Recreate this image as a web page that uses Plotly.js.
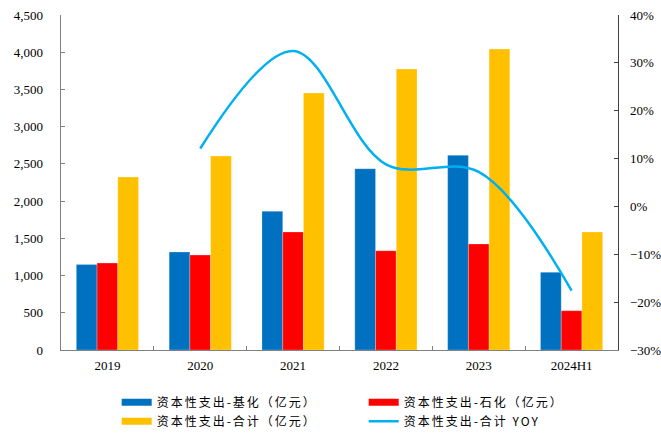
<!DOCTYPE html>
<html><head><meta charset="utf-8">
<script src="https://cdn.plot.ly/plotly-3.0.1.min.js"></script>
<style>body{margin:0;background:#fff}#c{width:661px;height:434px}
.legendtext{letter-spacing:2px}</style>
</head><body><div id="c"></div>
<script>
const categories = ['2019','2020','2021','2022','2023','2024H1'];
const capexJihua = [1150, 1316, 1863, 2435, 2615, 1044];
const capexShihua = [1168, 1276, 1585, 1334, 1424, 528];
const capexTotal = [2324, 2606, 3452, 3775, 4043, 1585];
const yoyCategories = ['2020','2021','2022','2023','2024H1'];
const yoyTotal = [0.121, 0.325, 0.088, 0.072, -0.176];
const names = ['资本性支出-基化（亿元）','资本性支出-石化（亿元）','资本性支出-合计（亿元）','资本性支出-合计 YOY'];
const colors = ['#0070C0','#FF0000','#FFC000','#00B0F0'];

const serif = 'Liberation Serif, Times New Roman, serif';
const bars = [capexJihua, capexShihua, capexTotal].map((v,i)=>({
  type:'bar', x:categories, y:v, name:names[i], showlegend:false,
  marker:{color:colors[i], line:{color:'rgba(255,255,255,0.5)', width:0.5}}, yaxis:'y'
}));
const line = {type:'scatter', mode:'lines', x:yoyCategories, y:yoyTotal, yaxis:'y2',
  line:{color:colors[3], width:2.5, shape:'spline', smoothing:1}, showlegend:false, name:names[3]};
const legendTraces = names.map((n,i)=>({
  type:'scatter', mode:'lines', x:[null], y:[null], name:n,
  line:{color:colors[i], width: i<3 ? 7 : 2.5}, showlegend:true, hoverinfo:'skip'
}));

const layout = {
  width:661, height:434,
  margin:{l:61, r:43, t:15, b:84, autoexpand:false},
  paper_bgcolor:'#fff', plot_bgcolor:'#fff',
  barmode:'group', bargap:0.33, bargroupgap:0,
  font:{family:serif, size:13, color:'#000'},
  xaxis:{type:'category', showline:true, linecolor:'#808080', linewidth:1.3,
    ticks:'inside', ticklen:4, tickcolor:'#808080', tickson:'boundaries', ticklabelstandoff:3,
    tickfont:{family:serif, size:13, color:'#000'}, showgrid:false, zeroline:false},
  yaxis:{range:[0,4500], dtick:500, tickformat:',', showline:true, linecolor:'#808080', linewidth:1.3,
    ticks:'inside', ticklen:4, tickcolor:'#808080', showgrid:false, zeroline:false,
    ticklabelstandoff:14, tickfont:{family:serif, size:13, color:'#000'}},
  yaxis2:{range:[-0.3,0.4], dtick:0.1, tickformat:'.0%', overlaying:'y', side:'right',
    showline:true, linecolor:'#404040', linewidth:1.3, ticks:'inside', ticklen:4, tickcolor:'#404040',
    showgrid:false, zeroline:false, ticklabelstandoff:8, tickfont:{family:serif, size:13, color:'#000'}},
  legend:{orientation:'h', x:0.1, xanchor:'left', y:-0.113, yanchor:'top',
    entrywidth:202, entrywidthmode:'pixels', tracegroupgap:0, itemwidth:30,
    font:{family:'Noto Sans CJK SC, sans-serif', size:12, color:'#000'}, bgcolor:'rgba(0,0,0,0)'},
  showlegend:true
};
Plotly.newPlot('c', [...bars, line, ...legendTraces], layout, {displayModeBar:false, staticPlot:true});
</script></body></html>
